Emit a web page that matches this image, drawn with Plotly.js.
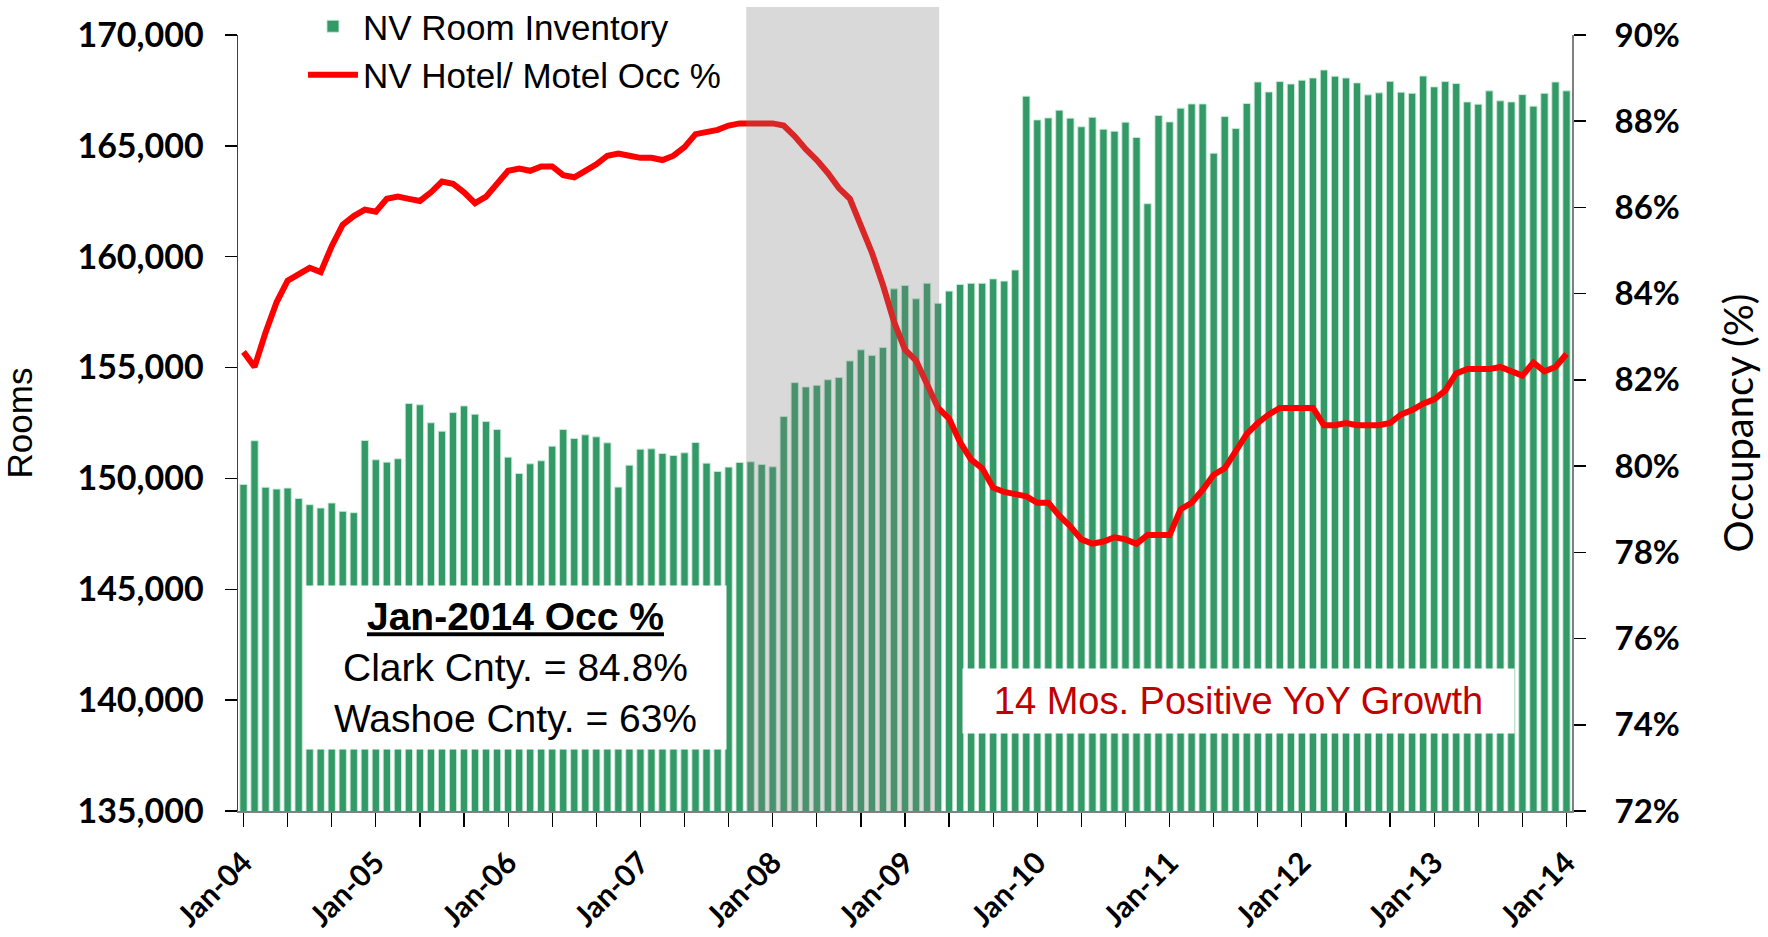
<!DOCTYPE html>
<html>
<head>
<meta charset="utf-8">
<script src="https://cdn.plot.ly/plotly-3.0.1.min.js"></script>
<style>
html,body{margin:0;padding:0;background:#fff;}
#chart{width:1768px;height:937px;}
</style>
</head>
<body>
<div id="chart"></div>
<script>
// Monthly categories Jan-04 .. Jan-14
var monthNames = ['Jan','Feb','Mar','Apr','May','Jun','Jul','Aug','Sep','Oct','Nov','Dec'];
var startYear = 2004;
var monthCount = 121;
var months = [];
for (var k = 0; k < monthCount; k++) {
  var yy = startYear + Math.floor(k / 12);
  months.push(monthNames[k % 12] + '-' + String(yy).slice(2));
}

// NV Room Inventory (rooms)
var roomInventory = [
  149730,151700,149600,149520,149565,149100,148815,148665,148890,148515,148455,151710,
  150840,150735,150885,153380,153320,152510,152130,152970,153270,152895,152565,152205,
  150960,150225,150660,150795,151455,152205,151800,151965,151875,151605,149610,150600,
  151320,151335,151125,151035,151155,151620,150690,150315,150510,150720,150750,150630,
  150525,152790,154320,154125,154200,154450,154550,155300,155800,155550,155900,158550,
  158700,158100,158800,157900,158450,158750,158800,158800,159000,158900,159400,167240,
  166170,166260,166610,166250,165860,166290,165750,165660,166070,165380,162390,166370,
  166080,166700,166890,166890,164670,166320,165780,166910,167880,167430,167900,167790,
  167960,168060,168420,168140,168060,167840,167300,167390,167910,167420,167370,168150,
  167660,167900,167810,166980,166880,167480,167030,166980,167310,166790,167370,167880,
  167480
];

// NV Hotel/ Motel Occupancy (%)
var occupancy = [
  82.65,82.3,83.1,83.8,84.3,84.45,84.6,84.5,85.1,85.6,85.8,85.95,
  85.9,86.2,86.25,86.2,86.15,86.35,86.6,86.55,86.35,86.1,86.25,86.55,
  86.85,86.9,86.85,86.95,86.95,86.75,86.7,86.85,87.0,87.2,87.25,87.2,
  87.15,87.15,87.1,87.2,87.4,87.7,87.75,87.8,87.9,87.95,87.95,87.95,
  87.95,87.9,87.65,87.35,87.1,86.8,86.45,86.2,85.6,84.95,84.2,83.35,
  82.7,82.45,81.9,81.35,81.1,80.55,80.15,79.95,79.5,79.4,79.35,79.3,
  79.15,79.15,78.85,78.6,78.3,78.2,78.25,78.35,78.3,78.2,78.4,78.4,
  78.4,79.0,79.15,79.45,79.8,79.95,80.35,80.75,81.0,81.2,81.35,81.35,
  81.35,81.35,80.95,80.95,81.0,80.95,80.95,80.95,81.0,81.2,81.3,81.45,
  81.55,81.75,82.15,82.25,82.25,82.25,82.3,82.2,82.1,82.4,82.2,82.3,
  82.6
];

var seriesNames = ['NV Room Inventory', 'NV Hotel/ Motel Occ %'];

// x-axis ticks every 4 months, labels on January only
var tickVals = [], tickText = [];
for (var t = 0; t < months.length; t += 4) {
  tickVals.push(months[t]);
  tickText.push(months[t].indexOf('Jan') === 0 ? months[t] : '');
}

var barTrace = {
  type: 'bar',
  name: seriesNames[0],
  x: months,
  y: roomInventory,
  marker: {color: '#339966', line: {color: 'rgba(200,235,215,0.9)', width: 1}},
  hoverinfo: 'x+y'
};
var lineTrace = {
  type: 'scatter',
  mode: 'lines',
  name: seriesNames[1],
  x: months,
  y: occupancy,
  yaxis: 'y2',
  line: {color: '#ff0000', width: 6},
  hoverinfo: 'x+y'
};

var tickFont = {family: 'Lato, Arial, sans-serif', size: 33, color: '#000', weight: 'bold'};

var layout = {
  width: 1768,
  height: 937,
  margin: {l: 238, r: 196, t: 35, b: 126, pad: 0, autoexpand: false},
  paper_bgcolor: '#ffffff',
  plot_bgcolor: '#ffffff',
  bargap: 0.34,
  showlegend: true,
  legend: {
    x: 0.0487, y: 1.049, xanchor: 'left', yanchor: 'top',
    font: {family: 'Liberation Sans, Arial, sans-serif', size: 35, color: '#000'},
    bgcolor: 'rgba(255,255,255,0)',
    itemwidth: 50,
    tracegroupgap: 0
  },
  xaxis: {
    type: 'category',
    range: [-0.5, 120.5],
    tickmode: 'array',
    tickvals: tickVals,
    ticktext: tickText,
    tickangle: -45,
    ticks: 'outside',
    ticklen: 14,
    tickwidth: 1.2,
    tickcolor: '#000',
    showline: true,
    linecolor: '#808080',
    linewidth: 2,
    showgrid: false,
    zeroline: false,
    ticklabelstandoff: 6,
    tickfont: {family: 'Lato, Arial, sans-serif', size: 30, color: '#000', weight: 'bold'}
  },
  yaxis: {
    range: [135000, 170000],
    dtick: 5000,
    tick0: 135000,
    tickformat: ',d',
    ticks: 'outside',
    ticklen: 12,
    tickwidth: 1.5,
    tickcolor: '#000',
    showline: true,
    linecolor: '#404040',
    linewidth: 1.5,
    showgrid: false,
    zeroline: false,
    ticklabelstandoff: 14,
    tickfont: {family: 'Lato, Arial, sans-serif', size: 34, color: '#000', weight: 'bold'},
    title: {text: 'Rooms', font: {family: 'Liberation Sans, Arial, sans-serif', size: 35, color: '#000'}, standoff: 37}
  },
  yaxis2: {
    overlaying: 'y',
    side: 'right',
    range: [72, 90],
    dtick: 2,
    tick0: 72,
    ticksuffix: '%',
    ticks: 'outside',
    ticklen: 12,
    tickwidth: 1.5,
    tickcolor: '#000',
    showline: true,
    linecolor: '#808080',
    linewidth: 2,
    showgrid: false,
    zeroline: false,
    ticklabelstandoff: 22,
    tickfont: tickFont,
    title: {text: 'Occupancy (%)', font: {family: 'Lato, Arial, sans-serif', size: 40, color: '#000'}, standoff: 46}
  },
  shapes: [{
    type: 'rect',
    layer: 'above',
    xref: 'x', yref: 'paper',
    x0: 45.6, x1: 63.1, y0: 0, y1: 1.036,
    fillcolor: 'rgba(128,128,128,0.3)',
    line: {width: 0}
  }],
  annotations: [
    {
      xref: 'paper', yref: 'paper',
      x: 0.208, y: 0.185, xanchor: 'center', yanchor: 'middle',
      text: '<b><u>Jan-2014 Occ %</u></b><br>Clark Cnty. = 84.8%<br>Washoe Cnty. = 63%',
      showarrow: false,
      align: 'center',
      bgcolor: '#ffffff',
      width: 419, height: 161, borderpad: 1,
      font: {family: 'Liberation Sans, Arial, sans-serif', size: 39, color: '#000'}
    },
    {
      xref: 'paper', yref: 'paper',
      x: 0.750, y: 0.1418, xanchor: 'center', yanchor: 'middle',
      text: '14 Mos. Positive YoY Growth',
      showarrow: false,
      bgcolor: '#ffffff',
      width: 549, height: 62, borderpad: 1,
      font: {family: 'Liberation Sans, Arial, sans-serif', size: 38, color: '#c00000'}
    }
  ]
};

Plotly.newPlot('chart', [barTrace, lineTrace], layout, {displayModeBar: false, staticPlot: true});
</script>
</body>
</html>
